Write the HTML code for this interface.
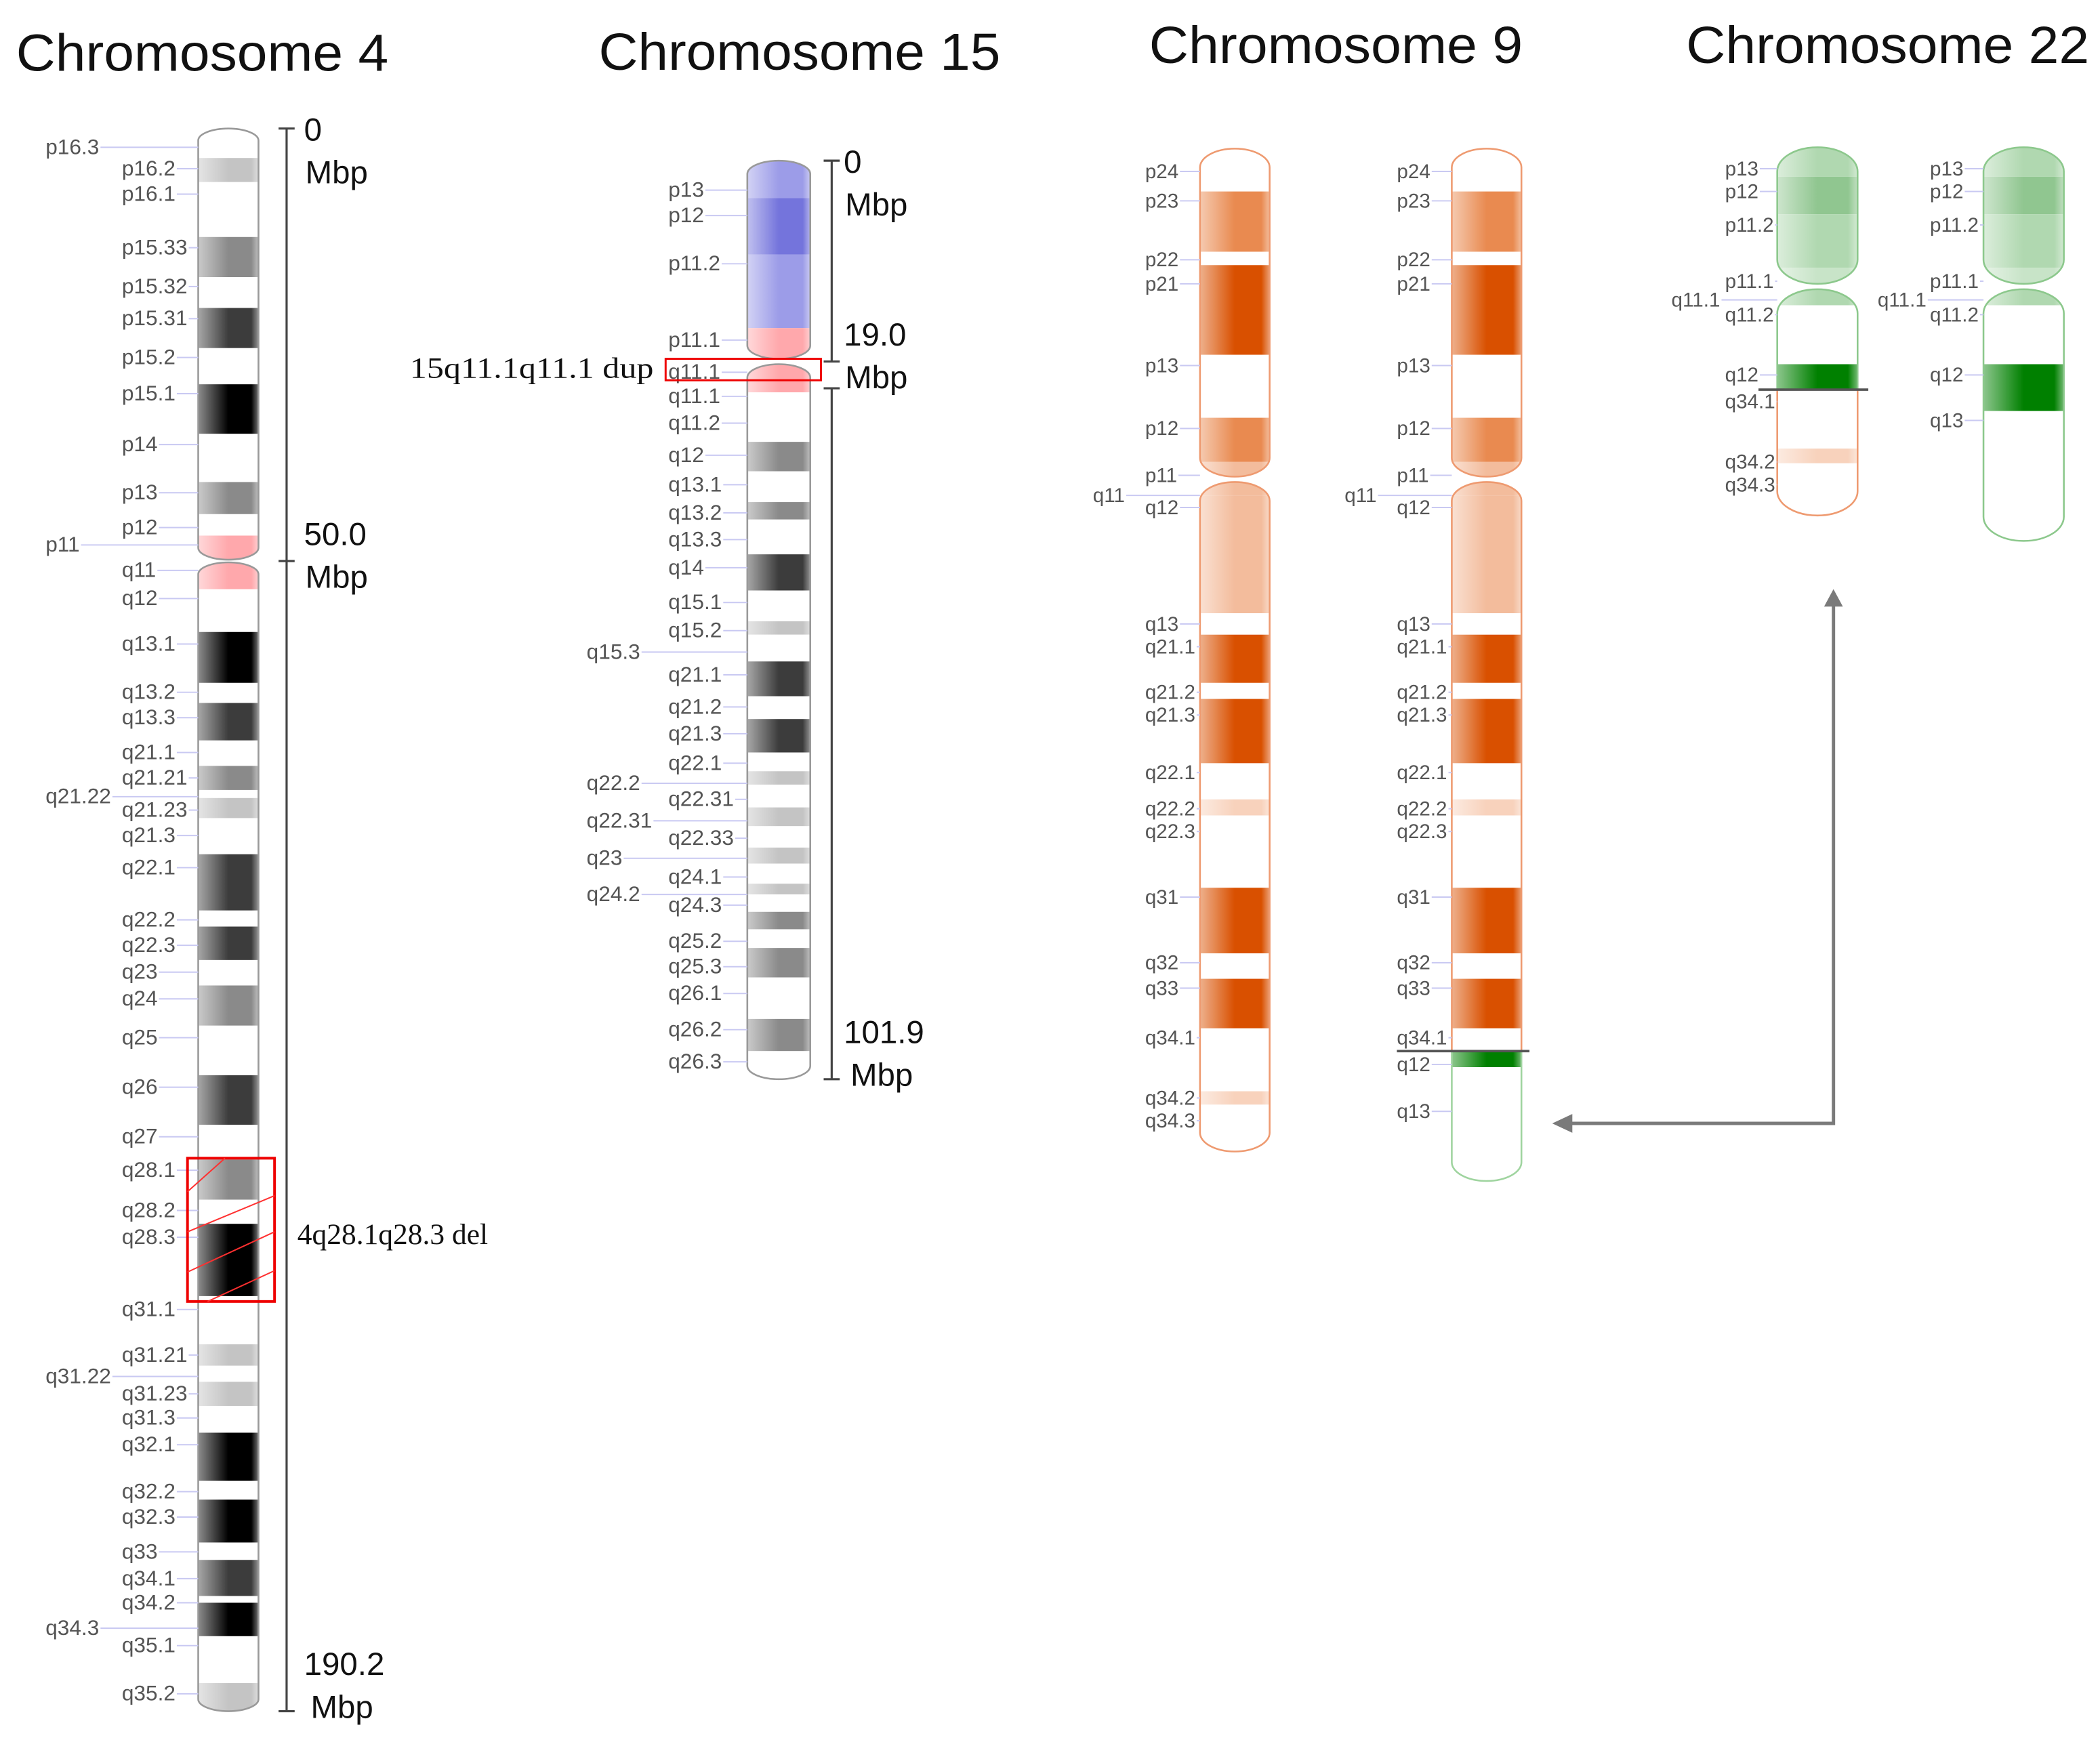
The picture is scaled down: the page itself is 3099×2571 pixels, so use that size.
<!DOCTYPE html>
<html><head><meta charset="utf-8"><title>Chromosome ideograms</title>
<style>html,body{margin:0;padding:0;background:#fff;}svg{display:block;}</style></head>
<body>
<svg id="fig" xmlns="http://www.w3.org/2000/svg" width="3099" height="2571" viewBox="0 0 1568 1301" preserveAspectRatio="none">
<defs>
<linearGradient id="shade" x1="0" x2="1" y1="0" y2="0">
<stop offset="0" stop-color="#fff" stop-opacity="0.55"/>
<stop offset="0.5" stop-color="#fff" stop-opacity="0"/>
<stop offset="0.88" stop-color="#fff" stop-opacity="0"/>
<stop offset="1" stop-color="#fff" stop-opacity="0.45"/>
</linearGradient>
</defs>
<rect width="1568" height="1301" fill="#fff"/>
<g font-family="'Liberation Sans', sans-serif" font-size="39" fill="#111">
<text x="12" y="53" textLength="278" lengthAdjust="spacingAndGlyphs">Chromosome 4</text>
<text x="447" y="52" textLength="300" lengthAdjust="spacingAndGlyphs">Chromosome 15</text>
<text x="858" y="47" textLength="279" lengthAdjust="spacingAndGlyphs">Chromosome 9</text>
<text x="1259" y="47" textLength="301" lengthAdjust="spacingAndGlyphs">Chromosome 22</text>
</g>
<g id="marks"></g>
</svg>
<script>
// ---- data: bands [name, start, end, stain] in ideogram units; labels [text, pos, column]
const chr4Bands=[["p16.3",0,22,"w"],["p16.2",22,40,"g25"],["p16.1",40,81,"w"],["p15.33",81,111,"g50"],["p15.32",111,134,"w"],["p15.31",134,164,"g75"],["p15.2",164,191,"w"],["p15.1",191,228,"g100"],["p14",228,264,"w"],["p13",264,288,"g50"],["p12",288,304,"w"],["p11",304,322,"cen"],["q11",324,344,"cen"],["q12",344,376,"w"],["q13.1",376,414,"g100"],["q13.2",414,429,"w"],["q13.3",429,457,"g75"],["q21.1",457,476,"w"],["q21.21",476,494,"g50"],["q21.22",494,500,"w"],["q21.23",500,515,"g25"],["q21.3",515,542,"w"],["q22.1",542,584,"g75"],["q22.2",584,596,"w"],["q22.3",596,621,"g75"],["q23",621,640,"w"],["q24",640,670,"g50"],["q25",670,707,"w"],["q26",707,744,"g75"],["q27",744,770,"w"],["q28.1",770,800,"g50"],["q28.2",800,818,"w"],["q28.3",818,872,"g100"],["q31.1",872,908,"w"],["q31.21",908,924,"g25"],["q31.22",924,936,"w"],["q31.23",936,954,"g25"],["q31.3",954,974,"w"],["q32.1",974,1010,"g100"],["q32.2",1010,1024,"w"],["q32.3",1024,1056,"g100"],["q33",1056,1069,"w"],["q34.1",1069,1096,"g75"],["q34.2",1096,1101,"w"],["q34.3",1101,1126,"g100"],["q35.1",1126,1161,"w"],["q35.2",1161,1182,"g25"]];
const chr4Labels=[["p16.3",14,1],["p16.2",30,0],["p16.1",49,0],["p15.33",89,0],["p15.32",118,0],["p15.31",142,0],["p15.2",171,0],["p15.1",198,0],["p14",236,0],["p13",272,0],["p12",298,0],["p11",311,1],["q11",330,0],["q12",351,0],["q13.1",385,0],["q13.2",421,0],["q13.3",440,0],["q21.1",466,0],["q21.21",485,0],["q21.22",499,1],["q21.23",509,0],["q21.3",528,0],["q22.1",552,0],["q22.2",591,0],["q22.3",610,0],["q23",630,0],["q24",650,0],["q25",679,0],["q26",716,0],["q27",753,0],["q28.1",778,0],["q28.2",808,0],["q28.3",828,0],["q31.1",882,0],["q31.21",916,0],["q31.22",932,1],["q31.23",945,0],["q31.3",963,0],["q32.1",983,0],["q32.2",1018,0],["q32.3",1037,0],["q33",1063,0],["q34.1",1083,0],["q34.2",1101,0],["q34.3",1120,1],["q35.1",1133,0],["q35.2",1169,0]];
const chr4Arms=[[0,322],[324,1182]];
const chr4Ticks=[["0","Mbp",0],["50.0","Mbp",323],["190.2","Mbp",1182]];

const chr15Bands=[["p13",0,28,"b1"],["p12",28,70,"b2"],["p11.2",70,125,"b1"],["p11.1",125,148,"cen"],["q11.1",152,173,"cen"],["q11.2",173,210,"w"],["q12",210,232,"g50"],["q13.1",232,255,"w"],["q13.2",255,268,"g50"],["q13.3",268,294,"w"],["q14",294,321,"g75"],["q15.1",321,344,"w"],["q15.2",344,354,"g25"],["q15.3",354,374,"w"],["q21.1",374,400,"g75"],["q21.2",400,417,"w"],["q21.3",417,442,"g75"],["q22.1",442,456,"w"],["q22.2",456,466,"g25"],["q22.31",466,483,"w"],["q22.32",483,497,"g25"],["q22.33",497,513,"w"],["q23",513,525,"g25"],["q24.1",525,540,"w"],["q24.2",540,548,"g25"],["q24.3",548,561,"w"],["q25.1",561,574,"g50"],["q25.2",574,588,"w"],["q25.3",588,610,"g50"],["q26.1",610,641,"w"],["q26.2",641,665,"g50"],["q26.3",665,686,"w"]];
const chr15Labels=[["p13",22,0],["p12",41,0],["p11.2",77,0],["p11.1",134,0],["q11.1",158,0],["q11.1",176,0],["q11.2",196,0],["q12",220,0],["q13.1",242,0],["q13.2",263,0],["q13.3",283,0],["q14",304,0],["q15.1",330,0],["q15.2",351,0],["q15.3",367,1],["q21.1",384,0],["q21.2",408,0],["q21.3",428,0],["q22.1",450,0],["q22.2",465,1],["q22.31",477,0],["q22.31",493,1],["q22.33",506,0],["q23",521,1],["q24.1",535,0],["q24.2",548,1],["q24.3",556,0],["q25.2",583,0],["q25.3",602,0],["q26.1",622,0],["q26.2",649,0],["q26.3",673,0]];
const chr15Arms=[[0,148],[152,686]];

const chr9Bands=[["p24",0,32,"w"],["p23",32,77,"o2"],["p22",77,87,"w"],["p21",87,154,"o3"],["p13",154,201,"w"],["p12",201,234,"o2"],["p11",234,245,"o1"],["q11",249,259,"o1"],["q12",259,347,"o1"],["q13",347,363,"w"],["q21.1",363,399,"o3"],["q21.2",399,411,"w"],["q21.3",411,459,"o3"],["q22.1",459,486,"w"],["q22.2",486,498,"o0"],["q22.3",498,552,"w"],["q31",552,601,"o3"],["q32",601,620,"w"],["q33",620,657,"o3"],["q34.1",657,704,"w"],["q34.2",704,714,"o0"],["q34.3",714,749,"w"]];
const chr9Labels=[["p24",17,0],["p23",39,0],["p22",83,0],["p21",101,0],["p13",162,0],["p12",209,0],["p11",244,0],["q11",259,1],["q12",268,0],["q13",355,0],["q21.1",372,0],["q21.2",406,0],["q21.3",423,0],["q22.1",466,0],["q22.2",493,0],["q22.3",510,0],["q31",559,0],["q32",608,0],["q33",627,0],["q34.1",664,0],["q34.2",709,0],["q34.3",726,0]];
const chr9Arms=[[0,245],[249,749]];
const der9Bands=chr9Bands.filter(b=>b[2]<=674).map(b=>b.slice()).concat([["q34.1",657,674,"w"],["q12",674,686,"gr3"],["q13",686,771,"w"]]);
const der9Labels=chr9Labels.filter(l=>l[1]<=664).concat([["q12",684,0],["q13",719,0]]);
const der9Arms=[[0,245],[249,771]];

const chr22Bands=[["p13",0,22,"gr1"],["p12",22,50,"gr2"],["p11.2",50,90,"gr1"],["p11.1",90,102,"gr0"],["q11.1",106,118,"gr1"],["q11.2",118,162,"w"],["q12",162,197,"gr3"],["q13",197,294,"w"]];
const chr22Labels=[["p13",16,0],["p12",33,0],["p11.2",58,0],["p11.1",100,0],["q11.1",114,1],["q11.2",125,0],["q12",170,0],["q13",204,0]];
const chr22Arms=[[0,102],[106,294]];
const der22Bands=[["p13",0,22,"gr1"],["p12",22,50,"gr2"],["p11.2",50,90,"gr1"],["p11.1",90,102,"gr0"],["q11.1",106,118,"gr1"],["q11.2",118,162,"w"],["q12",162,181,"gr3"],["q34.1",181,225,"w"],["q34.2",225,236,"o0"],["q34.3",236,275,"w"]];
const der22Labels=[["p13",16,0],["p12",33,0],["p11.2",58,0],["p11.1",100,0],["q11.1",114,1],["q11.2",125,0],["q12",170,0],["q34.1",190,0],["q34.2",235,0],["q34.3",252,0]];
const der22Arms=[[0,102],[106,275]];

const chr15Ticks=[["0","Mbp",0],["19.0","Mbp",150],["101.9","Mbp",686]];

const COLORS={w:"#ffffff",g25:"#c4c4c4",g50:"#8a8a8a",g75:"#3c3c3c",g100:"#000000",cen:"#ffa8ac",b1:"#9c9ce8",b2:"#7474dc",o0:"#f8d2bc",o1:"#f3bc9c",o2:"#e98a50",o3:"#d95000",gr0:"#c8e4c8",gr1:"#b0d8b0",gr2:"#90c690",gr3:"#008000"};

const NS="http://www.w3.org/2000/svg";
const root=document.getElementById("marks");
let clipId=0;
function el(tag,attrs,parent){const e=document.createElementNS(NS,tag);for(const k in attrs)e.setAttribute(k,attrs[k]);(parent||root).appendChild(e);return e;}

function drawChrom(name,cfg){
  const g=el("g",{});
  
  
  const y=v=>cfg.top+v*cfg.k;
  const x0=cfg.x, w=cfg.w, r=cfg.r;
  cfg.arms.forEach((a,i)=>{
    const id="clip"+(clipId++);
    const cp=el("clipPath",{id:id},g);
    el("rect",{x:x0,y:y(a[0]),width:w,height:y(a[1])-y(a[0]),rx:w/2,ry:r},cp);
    const ag=el("g",{"clip-path":"url(#"+id+")"},g);
    cfg.bands.forEach(b=>{
      if(b[1]>=a[0]-0.1&&b[2]<=a[1]+0.1){
        const rc=el("rect",{x:x0,y:y(b[1]),width:w,height:y(b[2])-y(b[1]),fill:COLORS[b[3]]},ag);
        
        
      }
    });
    el("rect",{x:x0,y:y(a[0]),width:w,height:y(a[1])-y(a[0]),fill:"url(#shade)"},ag);
    const stroke=(cfg.outline&&cfg.outline(a,i))||cfg.stroke;
    if(Array.isArray(stroke)){
      stroke.forEach(s=>{
        const id2="clip"+(clipId++);
        const cp2=el("clipPath",{id:id2},g);
        el("rect",{x:x0-3,y:y(s[0]),width:w+6,height:y(s[1])-y(s[0])},cp2);
        el("rect",{x:x0,y:y(a[0]),width:w,height:y(a[1])-y(a[0]),rx:w/2,ry:r,fill:"none",stroke:s[2],"stroke-width":1.3,"clip-path":"url(#"+id2+")"},g);
      });
    } else {
      el("rect",{x:x0,y:y(a[0]),width:w,height:y(a[1])-y(a[0]),rx:w/2,ry:r,fill:"none",stroke:stroke,"stroke-width":1.3},g);
    }
  });
  cfg.labels.forEach(l=>{
    const ly=y(l[1]);
    const tx=l[2]?cfg.lx1:cfg.lx0;
    const line=el("line",{x1:tx,x2:x0,y1:ly,y2:ly,stroke:"#c9c9f2","stroke-width":1},g);
    const t=el("text",{x:tx,y:ly+5,"font-family":"'Liberation Sans', sans-serif","font-size":cfg.fs||16,fill:"#555"},g);
    t.textContent=l[0];
    
    
    let wTxt=0;try{wTxt=t.getComputedTextLength();}catch(e){wTxt=l[0].length*8;}
    line.setAttribute("x1",tx+wTxt+1);
  });
  return g;
}

function drawScale(name,ax,ticks,yfn,segments,lx){
  const g=el("g",{});
  
  
  segments.forEach(s=>{
    el("line",{x1:ax,x2:ax,y1:yfn(s[0]),y2:yfn(s[1]),stroke:"#444","stroke-width":1.6},g);
  });
  ticks.forEach((t,i)=>{
    const ty=yfn(t[2]);
    el("line",{x1:ax-6,x2:ax+6,y1:ty,y2:ty,stroke:"#444","stroke-width":1.6},g);
    const first=i===0, last=i===ticks.length-1;
    const ya = first? ty+9 : (last? ty-27 : ty-12);
    const a=el("text",{x:lx,y:ya,"font-family":"'Liberation Sans', sans-serif","font-size":24,fill:"#111"},g);
    a.textContent=t[0];
    
    
    const b=el("text",{x:lx+(last?5:1),y:ya+32,"font-family":"'Liberation Sans', sans-serif","font-size":24,fill:"#111"},g);
    b.textContent=t[1];
    
    
  });
}

drawChrom("chromosome-4",{x:148,w:45,r:9,top:96,k:1,bands:chr4Bands,labels:chr4Labels,arms:chr4Arms,stroke:"#999",lx0:91,lx1:34});
drawScale("chr4-scale",214,chr4Ticks,v=>96+v,[[0,1182]],227);
drawChrom("chromosome-15",{x:558,w:47,r:10,top:120,k:1,bands:chr15Bands,labels:chr15Labels,arms:chr15Arms,stroke:"#999",lx0:499,lx1:438});
drawScale("chr15-scale",621,chr15Ticks,v=>120+v,[[0,150],[170,686]],630);
(function(){const g=el("g",{});el("line",{x1:615,x2:627,y1:290,y2:290,stroke:"#444","stroke-width":1.6},g);el("rect",{x:612,y:272,width:18,height:12,fill:"#fff"},g);})();
drawChrom("chromosome-9-normal",{x:896,w:52,r:14,top:111,k:1,bands:chr9Bands,labels:chr9Labels,arms:chr9Arms,stroke:"#ee9a70",lx0:855,lx1:816,fs:15});
drawChrom("chromosome-9-derivative",{x:1084,w:52,r:14,top:111,k:1,bands:der9Bands,labels:der9Labels,arms:der9Arms,stroke:"#ee9a70",lx0:1043,lx1:1004,fs:15,
  outline:(a,i)=>i===1?[[a[0]-5,674,"#ee9a70"],[674,a[1]+5,"#9fd49f"]]:null});
drawChrom("chromosome-22-derivative",{x:1327,w:60,r:18,top:110,k:1,bands:der22Bands,labels:der22Labels,arms:der22Arms,stroke:"#8cc88c",lx0:1288,lx1:1248,fs:15,
  outline:(a,i)=>i===1?[[a[0]-5,181,"#8cc88c"],[181,a[1]+5,"#ee9a70"]]:null});
drawChrom("chromosome-22-normal",{x:1481,w:60,r:18,top:110,k:1,bands:chr22Bands,labels:chr22Labels,arms:chr22Arms,stroke:"#8cc88c",lx0:1441,lx1:1402,fs:15});

(function(){
  const l1=el("line",{x1:1043,x2:1142,y1:785,y2:785,stroke:"#555","stroke-width":1.8});
  
  const l2=el("line",{x1:1313,x2:1395,y1:291,y2:291,stroke:"#555","stroke-width":1.8});
  
})();

(function(){
  const b=el("g",{});
  
  el("rect",{x:140,y:865,width:65,height:107,fill:"none",stroke:"#ee0000","stroke-width":2},b);
  [[140,890,168,865],[140,920,205,893],[140,950,205,920],[155,972,205,949]].forEach(p=>el("line",{x1:p[0],y1:p[1],x2:p[2],y2:p[3],stroke:"#ff3030","stroke-width":1},b));
  const t=el("text",{x:222,y:929,"font-family":"'Liberation Serif', serif","font-size":22,fill:"#111"});
  t.textContent="4q28.1q28.3 del";
  const r=el("rect",{x:497,y:268,width:116,height:16,fill:"none",stroke:"#ee0000","stroke-width":1.5});
  
  const t2=el("text",{x:306,y:282,"font-family":"'Liberation Serif', serif","font-size":22,fill:"#111",textLength:182,lengthAdjust:"spacingAndGlyphs"});
  t2.textContent="15q11.1q11.1 dup";
})();

(function(){
  const g=el("g",{});
  
  el("polyline",{points:"1369,452 1369,839 1170,839",fill:"none",stroke:"#7a7a7a","stroke-width":2.5},g);
  el("polygon",{points:"1369,440 1362,453 1376,453",fill:"#7a7a7a"},g);
  el("polygon",{points:"1159,839 1174,832 1174,846",fill:"#7a7a7a"},g);
})();
</script>
</body></html>
